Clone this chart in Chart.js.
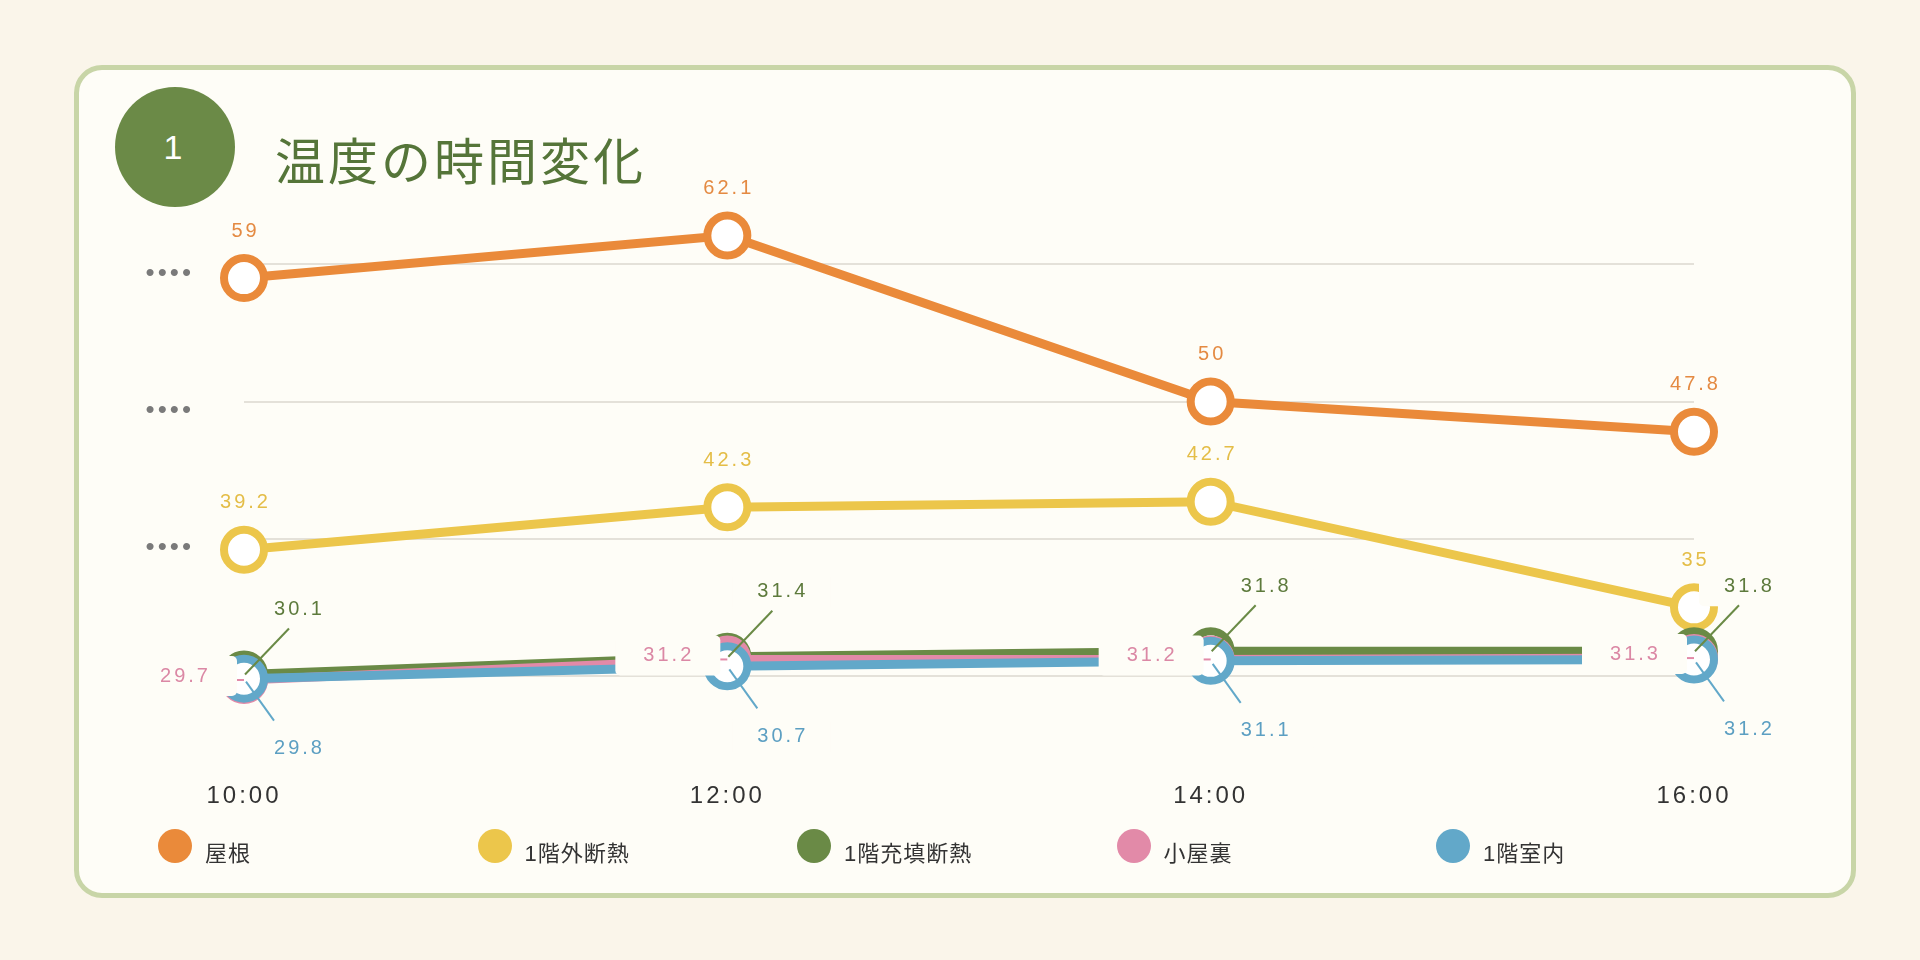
<!DOCTYPE html>
<html lang="ja">
<head>
<meta charset="utf-8">
<title>温度の時間変化</title>
<script src="https://cdn.jsdelivr.net/npm/chart.js"></script>
<style>
  html, body {
    margin: 0;
    padding: 0;
    width: 1920px;
    height: 960px;
    background: #faf5ea;
    overflow: hidden;
    font-family: "Liberation Sans", "Noto Sans CJK JP", sans-serif;
  }
  .card {
    position: absolute;
    left: 74px;
    top: 65px;
    width: 1782px;
    height: 833px;
    box-sizing: border-box;
    border: 5px solid #c8d5a7;
    border-radius: 28px;
    background: #fefdf7;
  }
  .badge {
    position: absolute;
    left: 115px;
    top: 87px;
    width: 120px;
    height: 120px;
    border-radius: 50%;
    background: #6b8a47;
    color: #fff;
    font-size: 34px;
    font-weight: 300;
    line-height: 120px;
    text-align: center;
    text-indent: -4px;
  }
  .title {
    position: absolute;
    left: 275px;
    top: 130px;
    font-family: "Noto Sans CJK JP", sans-serif;
    font-size: 50px;
    font-weight: 400;
    line-height: 56px;
    letter-spacing: 3px;
    color: #557539;
  }
  #chartCanvas {
    position: absolute;
    left: 100px;
    top: 134px;
  }
  .legend {
    position: absolute;
    left: 158px;
    top: 829px;
    display: flex;
  }
  .legend-item {
    width: 319.5px;
    display: flex;
    align-items: flex-start;
  }
  .legend-dot {
    width: 34px;
    height: 34px;
    border-radius: 50%;
    margin-right: 13px;
  }
  .legend-text {
    font-size: 22px;
    line-height: 22px;
    margin-top: 14px;
    letter-spacing: 1px;
    color: #333;
  }
</style>
</head>
<body>
<div class="card"></div>
<div class="badge">1</div>
<div class="title">温度の時間変化</div>
<canvas id="chartCanvas" width="1700" height="696"></canvas>
<div class="legend" id="legend"></div>

<script>
// Time of day along the x axis
const timeLabels = ['10:00', '12:00', '14:00', '16:00'];

// Series names (legend order)
const seriesNames = ['屋根', '1階外断熱', '1階充填断熱', '小屋裏', '1階室内'];

// Temperatures
const roofTemps = [59, 62.1, 50, 47.8];
const outerInsulTemps = [39.2, 42.3, 42.7, 35];
const fillInsulTemps = [30.1, 31.4, 31.8, 31.8];
const atticTemps = [29.7, 31.2, 31.2, 31.3];
const roomTemps = [29.8, 30.7, 31.1, 31.2];

// Gridline values on the y axis
const yTicks = [30, 40, 50, 60];

const seriesColors = ['#ea8a3a', '#ecc64b', '#6a8a46', '#e28aa8', '#62a8c9'];
const labelColors = ['#e48a42', '#e4bd47', '#5d7a3c', '#db88a5', '#5c9fc2'];
// how each series puts its value label
const labelModes = ['above', 'above', 'upperRight', 'left', 'lowerRight'];
// label boxes share the card colour, they only show where they cover marks
const boxColor = '#fefdf7';

const allTemps = [roofTemps, outerInsulTemps, fillInsulTemps, atticTemps, roomTemps];

// Build the HTML legend
const legendEl = document.getElementById('legend');
seriesNames.forEach((name, i) => {
    const item = document.createElement('div');
    item.className = 'legend-item';
    item.innerHTML = `<div class="legend-dot" style="background:${seriesColors[i]}"></div><div class="legend-text">${name}</div>`;
    legendEl.appendChild(item);
});

function boxAt(ctx, x, y, w, h) {
    ctx.beginPath();
    if (ctx.roundRect) {
        ctx.roundRect(x, y, w, h, 5);
    } else {
        ctx.rect(x, y, w, h);
    }
    ctx.fill();
}

// Letter spacing for axis text (set every draw, canvas resets it on resize)
const spacingPlugin = {
    id: 'spacing',
    beforeDraw(chart) {
        chart.ctx.letterSpacing = '3px';
    },
    afterDraw(chart) {
        chart.ctx.letterSpacing = '0px';
    }
};

// Value labels with boxes and small leader lines
const valueLabels = {
    id: 'valueLabels',
    afterDatasetsDraw(chart) {
        const ctx = chart.ctx;
        ctx.save();
        ctx.letterSpacing = '3px';
        ctx.font = '20px "Liberation Sans", sans-serif';
        ctx.textAlign = 'center';
        ctx.textBaseline = 'middle';

        chart.data.datasets.forEach((ds, i) => {
            const meta = chart.getDatasetMeta(i);
            const mode = labelModes[i];
            meta.data.forEach((pt, j) => {
                const text = String(ds.data[j]);
                const x = pt.x;
                const y = pt.y;

                if (mode === 'above') {
                    ctx.fillStyle = labelColors[i];
                    ctx.fillText(text, x + 1.5, y - 47);
                    return;
                }

                if (mode === 'upperRight') {
                    ctx.fillStyle = boxColor;
                    boxAt(ctx, x + 5, y - 85, 98, 40);
                    ctx.fillStyle = labelColors[i];
                    ctx.fillText(text, x + 55.5, y - 65);
                    ctx.strokeStyle = seriesColors[i];
                    ctx.lineWidth = 2;
                    ctx.beginPath();
                    ctx.moveTo(x + 1, y);
                    ctx.lineTo(x + 45, y - 46);
                    ctx.stroke();
                } else if (mode === 'lowerRight') {
                    ctx.fillStyle = boxColor;
                    boxAt(ctx, x + 5, y + 50, 98, 40);
                    ctx.fillStyle = labelColors[i];
                    ctx.fillText(text, x + 55.5, y + 70);
                    ctx.strokeStyle = seriesColors[i];
                    ctx.lineWidth = 2;
                    ctx.beginPath();
                    ctx.moveTo(x + 2, y + 3);
                    ctx.lineTo(x + 30, y + 42);
                    ctx.stroke();
                } else if (mode === 'left') {
                    ctx.fillStyle = boxColor;
                    boxAt(ctx, x - 112, y - 24, 105, 40);
                    ctx.fillStyle = labelColors[i];
                    ctx.fillText(text, x - 58.5, y - 4);
                    ctx.strokeStyle = seriesColors[i];
                    ctx.lineWidth = 2;
                    ctx.beginPath();
                    ctx.moveTo(x - 7, y);
                    ctx.lineTo(x, y);
                    ctx.stroke();
                }
            });
        });
        ctx.restore();
    }
};

const datasets = allTemps.map((temps, i) => ({
    label: seriesNames[i],
    data: temps,
    borderColor: seriesColors[i],
    borderWidth: 9,
    pointRadius: 20,
    pointHoverRadius: 20,
    pointBorderWidth: 8,
    pointHoverBorderWidth: 8,
    pointBackgroundColor: '#ffffff',
    pointBorderColor: seriesColors[i],
    tension: 0,
    fill: false,
    clip: false,
    // last series drawn on top
    order: allTemps.length - 1 - i
}));

new Chart(document.getElementById('chartCanvas'), {
    type: 'line',
    data: {
        labels: timeLabels,
        datasets: datasets
    },
    options: {
        responsive: false,
        animation: false,
        devicePixelRatio: 1,
        layout: {
            padding: { top: 30, right: 106, bottom: 0, left: 0 }
        },
        plugins: {
            legend: { display: false },
            tooltip: { enabled: false }
        },
        scales: {
            x: {
                offset: false,
                grid: { display: false, drawTicks: false },
                border: { display: false },
                ticks: {
                    color: '#333333',
                    font: { family: 'Liberation Sans', size: 24 },
                    padding: 22,
                    maxRotation: 0,
                    autoSkip: false
                },
                afterFit: (axis) => { axis.height = 70; }
            },
            y: {
                min: 23.87,
                max: 64.72,
                grid: { color: '#e4e1d9', lineWidth: 2, drawTicks: false },
                border: { display: false },
                ticks: {
                    color: '#7a7a7a',
                    font: { family: 'Liberation Sans', size: 26 },
                    padding: 50,
                    labelOffset: 9,
                    callback: () => '••••'
                },
                afterBuildTicks: (axis) => {
                    axis.ticks = yTicks.map(v => ({ value: v }));
                },
                afterFit: (axis) => { axis.width = 144; }
            }
        }
    },
    plugins: [spacingPlugin, valueLabels]
});
</script>
</body>
</html>
